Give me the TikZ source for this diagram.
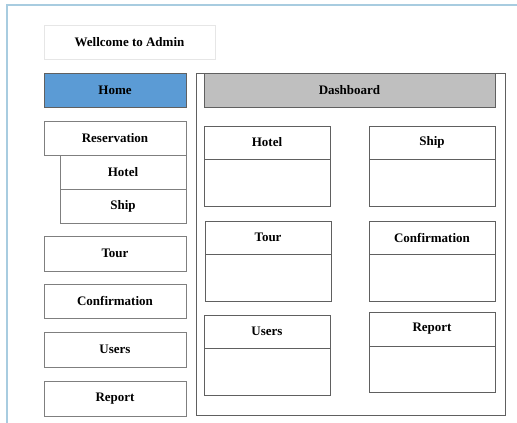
\documentclass[tikz,border=0pt]{standalone}
\usepackage{fontspec}
\setmainfont{Liberation Serif}
\definecolor{frameblue}{HTML}{A8CCE0}
\definecolor{homeblue}{HTML}{5B9BD5}
\definecolor{dashgray}{HTML}{BFBFBF}
\definecolor{boxline}{HTML}{7F7F7F}
\definecolor{cardline}{HTML}{606060}
\definecolor{shadowline}{HTML}{E6E6E6}
\tikzset{
  x=1pt, y=-1pt,
  lbl/.style={font=\fontsize{13}{15}\selectfont\bfseries, inner sep=0pt},
  menubox/.style={draw=boxline, line width=0.8pt, fill=white},
  cardbox/.style={draw=cardline, line width=0.8pt, fill=white},
}
\begin{document}
\begin{tikzpicture}
\useasboundingbox (0,0) rectangle (517,423);
% outer frame (top and left edges only)
\draw[frameblue, line width=1.2pt] (7,423) -- (7,5) -- (517,5);
% welcome box
\draw[shadowline, line width=0.8pt] (44,25) rectangle (215,59);
\node[lbl] (welcome) at (129.5,42) {Wellcome to Admin};
% sidebar
\draw[draw=cardline, fill=homeblue, line width=0.8pt] (44,73) rectangle (186,107);
\node[lbl] (home) at (115,90) {Home};
\draw[menubox] (44,121) rectangle (186,155);
\node[lbl] (res) at (115,138) {Reservation};
\draw[menubox] (60,155) rectangle (186,189);
\node[lbl] (shotel) at (123,172) {Hotel};
\draw[menubox] (60,189) rectangle (186,223);
\node[lbl] (sship) at (123,206) {Ship};
\draw[menubox] (44,236) rectangle (186,271);
\node[lbl] (stour) at (115,253.5) {Tour};
\draw[menubox] (44,284) rectangle (186,318);
\node[lbl] (sconf) at (115,301) {Confirmation};
\draw[menubox] (44,332) rectangle (186,367);
\node[lbl] (susers) at (115,349.5) {Users};
\draw[menubox] (44,381) rectangle (186,416);
\node[lbl] (srep) at (115,398.5) {Report};
% dashboard panel
\draw[draw=cardline, line width=0.8pt] (196,73) rectangle (505,415);
\draw[draw=cardline, fill=dashgray, line width=0.8pt] (204,73) rectangle (495,107);
\node[lbl] (dash) at (349.5,90) {Dashboard};
% cards
\foreach \nm/\xa/\xb/\ya/\yd/\yb/\txt in {
  chotel/204/330/126/159/206/Hotel,
  cship/369/495/126/159/206/Ship,
  ctour/205/331/221/254/301/Tour,
  cconf/369/495/221/254/301/Confirmation,
  cusers/204/330/315/348/395/Users,
  crep/369/495/312/346/392/Report}{
  \draw[cardbox] (\xa,\ya) rectangle (\xb,\yb);
  \draw[draw=cardline, line width=0.8pt] (\xa,\yd) -- (\xb,\yd);
  \node[lbl] (\nm) at ({(\xa+\xb)/2},{(\ya+\yd)/2}) {\txt};
}
\end{tikzpicture}
\end{document}
